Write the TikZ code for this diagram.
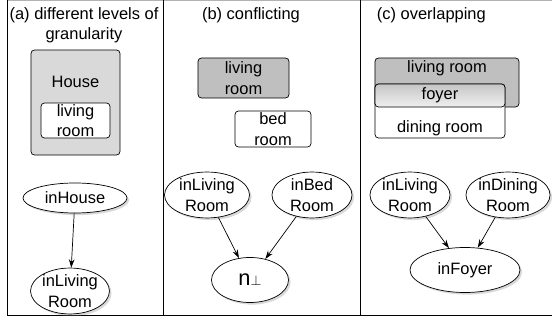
\documentclass[tikz,border=0pt]{standalone}
\usepackage{fontspec}
\setmainfont{Liberation Sans}
\usetikzlibrary{shapes.geometric,shadows,arrows.meta}

\begin{document}
\begin{tikzpicture}[x=0.025cm,y=-0.025cm,
  font=\fontsize{11.7}{14.5}\selectfont,
  region/.style={draw,rounded corners=2.5pt,inner sep=0pt,line width=0.5pt},
  greyregion/.style={region,fill=gray!30},
  darkregion/.style={region,fill=gray!50},
  whiteregion/.style={region,fill=white},
  predicate/.style={draw,ellipse,fill=white,inner sep=0pt,align=center,line width=0.5pt,
    drop shadow={shadow xshift=1.5pt,shadow yshift=-1.5pt,opacity=0.3}},
  implies/.style={-{Stealth[length=6pt,width=4pt]},line width=0.5pt}]
\useasboundingbox (0,0) rectangle (552,320);

% Frame and separators
\draw[gray!60] (7,0.5) -- (552,0.5);
\draw[line width=0.7pt] (7,315) -- (552,315);
\draw[line width=0.7pt] (7,0) -- (7,315);
\draw[line width=0.7pt] (163,0) -- (163,315);
\draw[line width=0.7pt] (360,0) -- (360,315);

% (a) different levels of granularity
\node[align=center] (titleA) at (84,25) {(a) different levels of\\granularity};
\node[greyregion,minimum width=2.225cm,minimum height=2.625cm] (house) at (75.5,102.5) {};
\node (houseText) at (75.5,82) {House};
\node[whiteregion,minimum width=1.725cm,minimum height=0.875cm,align=center] (livingA) at (75.5,120.5) {living\\room};

\node[predicate,minimum width=2.6cm,minimum height=0.75cm] (inHouse) at (75,198) {inHouse};
\node[predicate,minimum width=1.65cm,minimum height=1.075cm] (inLivingA) at (70,291) {inLiving\\Room};
\draw[implies] (inHouse) -- (inLivingA);

% (b) conflicting
\node (titleB) at (251,15) {(b) conflicting};
\node[darkregion,minimum width=2.275cm,minimum height=1.0cm,align=center] (livingB) at (243.5,78) {living\\room};
\node[whiteregion,minimum width=1.9cm,minimum height=0.9cm,align=center] (bedB) at (273,129) {bed\\room};

\node[predicate,minimum width=2.125cm,minimum height=1.1cm] (inLivingB) at (207,195) {inLiving\\Room};
\node[predicate,minimum width=2.0cm,minimum height=1.1cm] (inBedB) at (312,195) {inBed\\Room};
\node[predicate,minimum width=1.925cm,minimum height=1.125cm] (bottomB) at (250,280)
  {\fontsize{15.5}{16}\selectfont n{\fontsize{10}{10}\selectfont$\perp$}};
\draw[implies] (inLivingB) -- (bottomB);
\draw[implies] (inBedB) -- (bottomB);

% (c) overlapping
\node[anchor=west] (titleC) at (372,15) {(c) overlapping};
\node[darkregion,minimum width=3.6cm,minimum height=1.225cm] (livingC) at (447,82.5) {};
\node (livingText) at (447,68) {living room};
\node[whiteregion,minimum width=3.25cm,minimum height=1.35cm] (diningC) at (440,111) {};
\node (diningText) at (440,128) {dining room};
\node[region,minimum width=3.25cm,minimum height=0.575cm,
  top color=gray!45,middle color=white,bottom color=gray!12] (foyerC) at (440,95.5) {foyer};

\node[predicate,minimum width=2.0cm,minimum height=1.1cm] (inLivingC) at (410,195) {inLiving\\Room};
\node[predicate,minimum width=1.75cm,minimum height=1.1cm] (inDiningC) at (508,195) {inDining\\Room};
\node[predicate,minimum width=2.75cm,minimum height=1.125cm] (inFoyer) at (465,270) {inFoyer};
\draw[implies] (inLivingC) -- (inFoyer);
\draw[implies] (inDiningC) -- (inFoyer);
\end{tikzpicture}
\end{document}
